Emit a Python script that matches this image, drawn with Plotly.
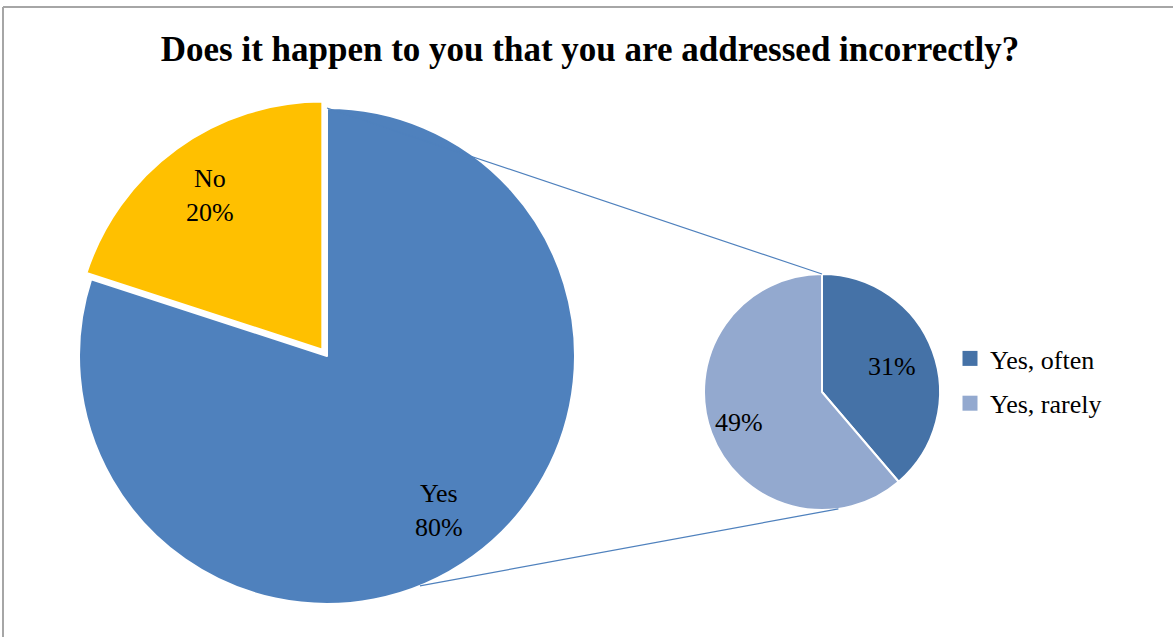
import math
import plotly.graph_objects as go

# ---- data ----
main_labels = ["Yes", "No"]
main_values = [80, 20]
sub_labels = ["Yes, often", "Yes, rarely"]
sub_values = [31, 49]
title_text = "Does it happen to you that you are addressed incorrectly?"

# ---- style / geometry (pixels) ----
W, H = 1173, 637
main_c = (327, 356); main_r = 248; main_pull = 0.032
sub_c = (822, 392); sub_r = 118
col_main = ["#4F81BD", "#FFC000"]
col_sub = ["#4572A7", "#93A9CF"]
serif = "Liberation Serif"
label_frac_main = 0.77
label_frac_sub = [0.63, 0.75]

def domain(c, r, pull=0.0):
    half = r * (1 + pull)
    x0, x1 = (c[0] - half) / W, (c[0] + half) / W
    y0, y1 = 1 - (c[1] + half) / H, 1 - (c[1] - half) / H
    return dict(x=[x0, x1], y=[y0, y1])

def pt(c, r, ang_deg):
    a = math.radians(ang_deg)
    return ((c[0] + r * math.sin(a)) / W, 1 - (c[1] - r * math.cos(a)) / H)

def mid_angles(values):
    tot = sum(values); acc = 0; out = []
    for v in values:
        out.append((acc + v / 2) / tot * 360)
        acc += v
    return out

fig = go.Figure()
fig.add_trace(go.Pie(
    labels=main_labels, values=main_values, sort=False, direction="clockwise",
    rotation=0, pull=[0, main_pull], domain=domain(main_c, main_r, main_pull),
    marker=dict(colors=col_main, line=dict(color="white", width=2)),
    textinfo="none", showlegend=False, hoverinfo="label+value",
))
fig.add_trace(go.Pie(
    labels=sub_labels, values=sub_values, sort=False, direction="clockwise",
    rotation=0, domain=domain(sub_c, sub_r),
    marker=dict(colors=col_sub, line=dict(color="white", width=2)),
    textinfo="none", showlegend=False, hoverinfo="label+value",
))
# legend entries with larger square markers
for lab, col in zip(sub_labels, col_sub):
    fig.add_trace(go.Scatter(x=[None], y=[None], mode="markers", name=lab,
                             legendgroup=lab,
                             marker=dict(symbol="square", size=15, color=col)))
fig.update_xaxes(visible=False)
fig.update_yaxes(visible=False)

annotations = []
tf = dict(family=serif, size=26, color="black")
for i, (lab, v, a) in enumerate(zip(main_labels, main_values, mid_angles(main_values))):
    c = main_c
    if i == 1:
        pa = math.radians(a)
        c = (main_c[0] + main_pull * main_r * math.sin(pa), main_c[1] - main_pull * main_r * math.cos(pa))
    x, y = pt(c, main_r * label_frac_main, a)
    annotations.append(dict(x=x, y=y, xref="paper", yref="paper", showarrow=False,
                            xanchor="center", yanchor="middle",
                            text=f"{lab}<br>{v}%", font=tf, align="center"))
for v, a, f in zip(sub_values, mid_angles(sub_values), label_frac_sub):
    x, y = pt(sub_c, sub_r * f, a)
    annotations.append(dict(x=x, y=y, xref="paper", yref="paper", showarrow=False,
                            xanchor="center", yanchor="middle",
                            text=f"{v}%", font=tf))

# connector lines and chart border
p1 = pt(main_c, main_r, 0); q1 = pt(sub_c, sub_r, 0)
p2 = pt(main_c, main_r, 158); q2 = pt(sub_c, sub_r, 172)
shapes = [
    dict(type="line", xref="paper", yref="paper", x0=p1[0], y0=p1[1], x1=q1[0], y1=q1[1],
         line=dict(color="#4F81BD", width=1.2)),
    dict(type="line", xref="paper", yref="paper", x0=p2[0], y0=p2[1], x1=q2[0], y1=q2[1],
         line=dict(color="#4F81BD", width=1.2)),
    dict(type="line", xref="paper", yref="paper", x0=3 / W, y0=1 - 7 / H, x1=1.01, y1=1 - 7 / H,
         line=dict(color="#A6A6A6", width=2)),
    dict(type="line", xref="paper", yref="paper", x0=3 / W, y0=1 - 7 / H, x1=3 / W, y1=-0.01,
         line=dict(color="#A6A6A6", width=2)),
]

fig.update_layout(
    width=W, height=H, margin=dict(l=0, r=0, t=0, b=0),
    paper_bgcolor="white", plot_bgcolor="white",
    title=dict(text="<b>" + title_text + "</b>", x=590 / W, xanchor="center",
               y=1 - 49 / H, yanchor="middle",
               font=dict(family=serif, size=35, color="black")),
    legend=dict(x=950 / W, y=1 - 381 / H, xanchor="left", yanchor="middle",
                font=dict(family=serif, size=26, color="black"),
                bgcolor="rgba(0,0,0,0)", tracegroupgap=8, itemwidth=30),
    shapes=shapes, annotations=annotations,
)
fig.write_html("out.html")
